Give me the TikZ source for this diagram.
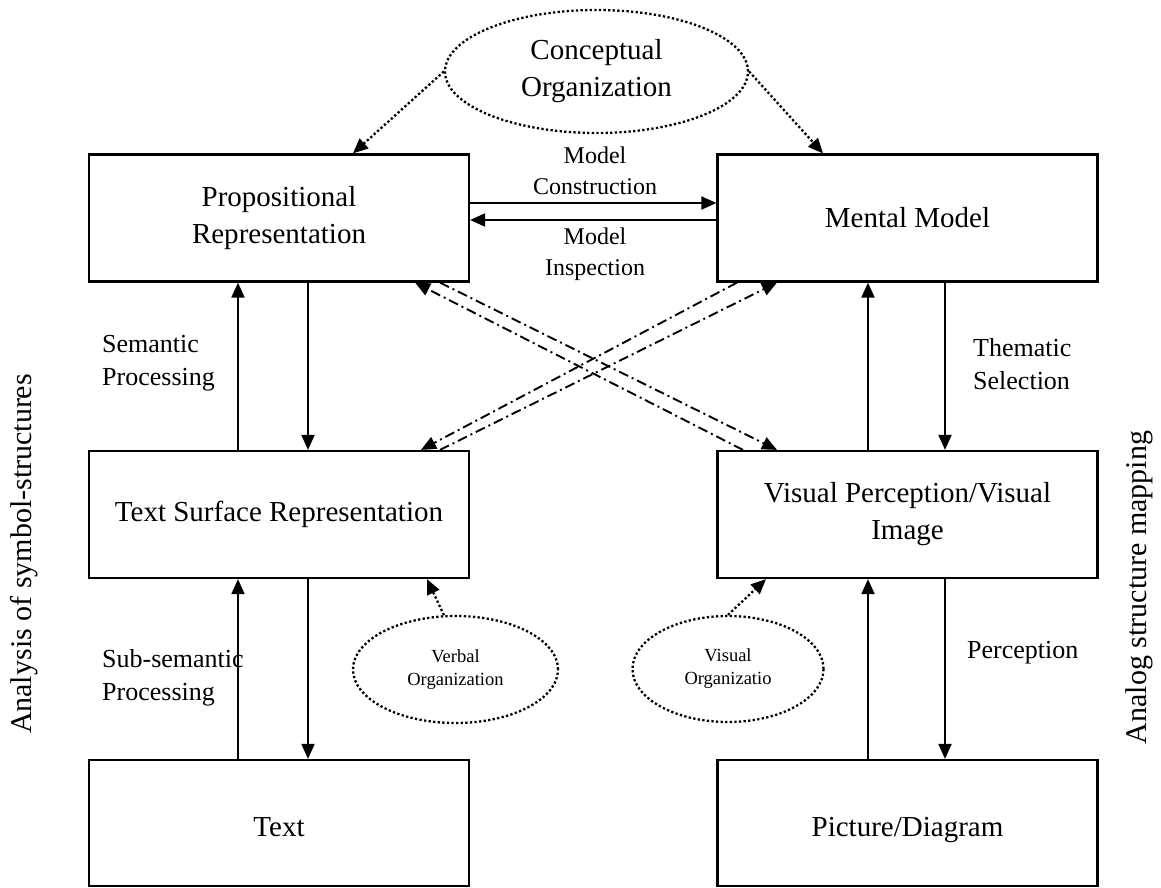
\documentclass[tikz,border=0pt]{standalone}
\usepackage{fontspec}
\setmainfont{Liberation Serif}
\usetikzlibrary{arrows.meta,shapes.geometric}
\begin{document}
\begin{tikzpicture}[x=1pt,y=-1pt,
  box/.style={draw,line width=2.2pt,minimum width=380pt,minimum height=127pt,inner sep=0pt,align=center,
    font=\fontsize{29}{37}\selectfont},
  arr/.style={line width=1.9pt,-{Triangle[length=15pt,width=13pt]}},
  dd/.style={line width=1.9pt,dash pattern=on 10pt off 4pt on 2pt off 4pt,-{Triangle[length=15pt,width=13pt]}},
  dotarr/.style={line width=2.3pt,dash pattern=on 2.3pt off 2.3pt,-{Triangle[length=15pt,width=13pt]}},
  oval/.style={ellipse,draw,line width=2.3pt,dash pattern=on 2.3pt off 2.3pt,inner sep=0pt,align=center},
  lbl/.style={anchor=west,align=left,inner sep=0pt,font=\fontsize{26}{33}\selectfont},
  mlbl/.style={align=center,inner sep=0pt,font=\fontsize{24}{31}\selectfont}
]
\useasboundingbox (0,0) rectangle (1161,888);

% boxes
\node[box] (PR) at (279,218) {Propositional\\Representation};
\node[box] (MM) at (907.5,218) {Mental Model};
\node[box] (TSR) at (279,514.5) {Text Surface Representation};
\node[box] (VP) at (907.5,514.5) {Visual Perception/Visual\\Image};
\node[box,minimum height=126pt,align=none,text height=26pt,text depth=0pt] (TX) at (279,823) {Text};
\node[box,minimum height=126pt,align=none,text height=26pt,text depth=0pt] (PD) at (907.5,823) {Picture/Diagram};

% ovals
\node[oval,minimum width=303pt,minimum height=123pt,font=\fontsize{29}{37}\selectfont] (CO) at (596.5,71.5) {Conceptual\\Organization};
\node[oval,minimum width=205pt,minimum height=107pt,font=\fontsize{18.5}{23}\selectfont] (VO) at (455.5,669.5) {Verbal\\Organization};
\node[oval,minimum width=191pt,minimum height=106pt,font=\fontsize{18.5}{23}\selectfont] (VisO) at (728,669) {Visual\\Organizatio};

% column coordinates
\coordinate (cL1) at (238,0);
\coordinate (cL2) at (308,0);
\coordinate (cR1) at (868,0);
\coordinate (cR2) at (945,0);
\coordinate (hA) at (0,203);
\coordinate (hB) at (0,220);

% horizontal arrows
\draw[arr] (PR.east |- hA) -- (MM.west |- hA);
\draw[arr] (MM.west |- hB) -- (PR.east |- hB);

% vertical arrows left
\draw[arr] (TSR.north -| cL1) -- (PR.south -| cL1);
\draw[arr] (PR.south -| cL2) -- (TSR.north -| cL2);
\draw[arr] (TX.north -| cL1) -- (TSR.south -| cL1);
\draw[arr] (TSR.south -| cL2) -- (TX.north -| cL2);
% vertical arrows right
\draw[arr] (VP.north -| cR1) -- (MM.south -| cR1);
\draw[arr] (MM.south -| cR2) -- (VP.north -| cR2);
\draw[arr] (PD.north -| cR1) -- (VP.south -| cR1);
\draw[arr] (VP.south -| cR2) -- (PD.north -| cR2);

% dash-dot cross arrows
\coordinate (x415) at (415,0);
\coordinate (x420) at (421,0);
\coordinate (x440) at (440,0);
\coordinate (x737) at (737,0);
\coordinate (x743) at (743,0);
\coordinate (x777) at (777,0);
\draw[dd] (PR.south -| x440) -- (VP.north -| x777);
\draw[dd] (VP.north -| x743) -- (PR.south -| x415);
\draw[dd] (TSR.north -| x440) -- (MM.south -| x777);
\draw[dd] (MM.south -| x737) -- (TSR.north -| x420);

% dotted arrows
\coordinate (x353) at (353,0);
\coordinate (x823) at (823,0);
\coordinate (x427) at (427,0);
\coordinate (x766) at (766,0);
\draw[dotarr] (CO.west) -- (PR.north -| x353);
\draw[dotarr] (CO.east) -- (MM.north -| x823);
\draw[dotarr] (VO.102) -- (TSR.south -| x427);
\draw[dotarr] (VisO.north) -- (VP.south -| x766);

% labels
\node[mlbl] (lmc) at (595,171) {Model\\Construction};
\node[mlbl] (lmi) at (595,254) {Model\\Inspection};
\node[lbl] (lsp) at (102,363.5) {Semantic\\Processing};
\node[lbl] (lssp) at (102,678) {Sub-semantic\\Processing};
\node[lbl] (lts) at (973,364) {Thematic\\Selection};
\node[lbl] (lpc) at (967,653) {Perception};
\node[rotate=90,inner sep=0pt,font=\fontsize{30}{36}\selectfont] (las) at (24,554) {Analysis of symbol-structures};
\node[rotate=90,inner sep=0pt,font=\fontsize{30}{36}\selectfont] (lam) at (1139,587.5) {Analog structure mapping};
\end{tikzpicture}
\end{document}
